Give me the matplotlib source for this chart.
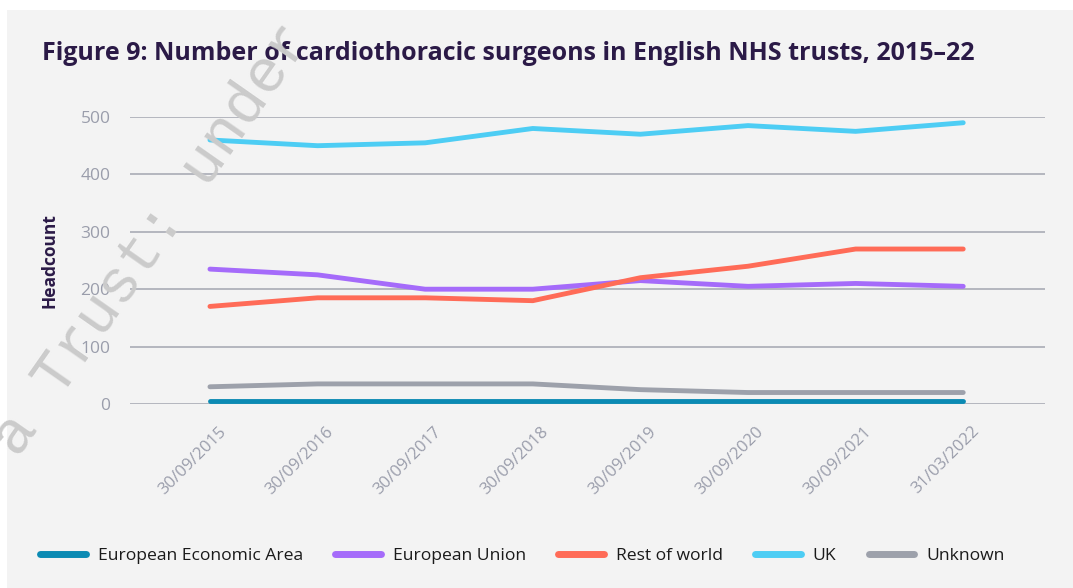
import matplotlib
matplotlib.use("Agg")
import matplotlib.pyplot as plt
from matplotlib.patches import Rectangle
from matplotlib.lines import Line2D

# ---- data ----
dates = ["30/09/2015", "30/09/2016", "30/09/2017", "30/09/2018",
         "30/09/2019", "30/09/2020", "30/09/2021", "31/03/2022"]
eea = [5, 5, 5, 5, 5, 5, 5, 5]
eu = [235, 225, 200, 200, 215, 205, 210, 205]
rest_of_world = [170, 185, 185, 180, 220, 240, 270, 270]
uk = [460, 450, 455, 480, 470, 485, 475, 490]
unknown = [30, 35, 35, 35, 25, 20, 20, 20]
series_names = ["European Economic Area", "European Union", "Rest of world", "UK", "Unknown"]
y_ticks = [0, 100, 200, 300, 400, 500]

FONT = "Open Sans"
colors = ["#0b8ab3", "#a56bfa", "#ff6b57", "#4dcdf4", "#9da1ab"]
W, H = 1073, 588
fig = plt.figure(figsize=(W / 100, H / 100), dpi=100)
fig.patch.set_facecolor("white")
bg = Rectangle((7 / W, 0), 1 - 7 / W, 1 - 10 / H, transform=fig.transFigure,
               facecolor="#f3f3f3", edgecolor="none", zorder=-10)
fig.add_artist(bg)

ax = fig.add_axes([130 / W, 1 - 404 / H, (1045 - 130) / W, (404 - 117) / H])
ax.set_zorder(1)
ax.set_facecolor("none")
x = list(range(len(dates)))
for vals, c in zip([eea, eu, rest_of_world, uk, unknown], colors):
    ax.plot(x, vals, color=c, lw=3.5, solid_capstyle="round", solid_joinstyle="round",
            clip_on=False, zorder=3)

ax.set_ylim(0, 500)
ax.set_xlim(-0.743, 7.76)
for t in y_ticks:
    ax.axhline(t, color="#a3a6b0", lw=1.1, zorder=1)
for s in ax.spines.values():
    s.set_visible(False)
ax.set_yticks(y_ticks)
ax.set_yticklabels([str(t) for t in y_ticks], fontsize=12.5, color="#9a9dab", family=FONT)
ax.tick_params(axis="y", length=0, pad=14)
ax.set_xticks(x)
ax.set_xticklabels(dates, rotation=45, ha="right", rotation_mode="anchor",
                   fontsize=12, color="#9a9dab", family=FONT)
ax.tick_params(axis="x", length=0, pad=14)
for lbl in ax.get_xticklabels():
    lbl.set_transform(lbl.get_transform() + matplotlib.transforms.ScaledTranslation(8 / 100, 0, fig.dpi_scale_trans))

ax.set_ylabel("Headcount", fontsize=12.5, fontweight="bold", color="#2b1a47",
              family=FONT, labelpad=0)
ax.yaxis.set_label_coords(-72 / (1045 - 130), 0.5)

fig.text(42 / W, 1 - 54 / H, "Figure 9: Number of cardiothoracic surgeons in English NHS trusts, 2015\u201322",
         fontsize=18, fontweight="bold", color="#2b1a47", family=FONT,
         ha="left", va="center")

handles = [Line2D([0], [0], color=c, lw=5, solid_capstyle="round") for c in colors]
fig.legend(handles, series_names, loc="center left", bbox_to_anchor=(40 / W, 1 - 556 / H),
           ncol=5, frameon=False, handlelength=2.6, handletextpad=0.69,
           columnspacing=1.85, borderpad=0, borderaxespad=0,
           prop={"family": FONT, "size": 12.6}, labelcolor="#1a1a1a")

fig.text(152 / W, 1 - 240 / H, "a Trust: under", rotation=55, rotation_mode="anchor",
         ha="center", va="center", fontsize=44, family="Liberation Mono",
         color="#cbcbcb", zorder=10)

fig.savefig("out.png", dpi=100)
